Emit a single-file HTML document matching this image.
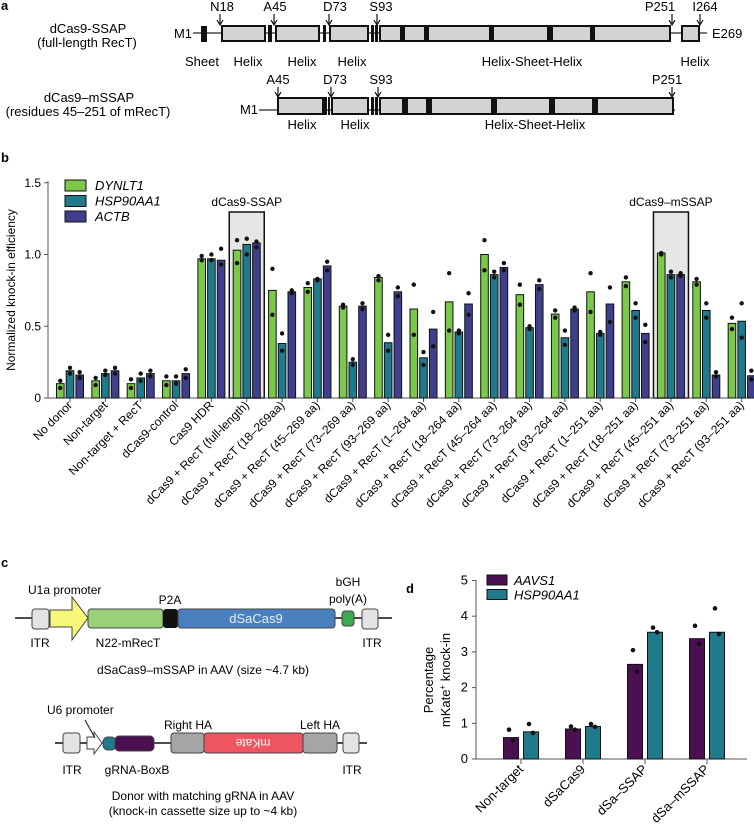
<!DOCTYPE html>
<html><head><meta charset="utf-8"><style>
body{margin:0;background:#fff}
svg{display:block;font-family:"Liberation Sans",Arial,sans-serif}
</style></head><body>
<svg id="fig" width="754" height="833" viewBox="0 0 754 833">
<!-- Panel a -->
<g font-size="13">
<text x="1" y="10" font-weight="bold" font-size="13">a</text>
<text x="88" y="33" text-anchor="middle">dCas9-SSAP</text>
<text x="87" y="47" text-anchor="middle">(full-length RecT)</text>
<text x="192" y="38" text-anchor="end">M1</text>
<line x1="193" y1="33" x2="707" y2="33" stroke="#777" stroke-width="2"/>
<rect x="201" y="26" width="6" height="16" fill="#111"/>
<g fill="#d3d3d3" stroke="#111" stroke-width="2">
<rect x="222" y="26" width="43" height="15"/><rect x="276" y="26" width="43" height="15"/><rect x="330" y="26" width="38" height="15"/><rect x="380" y="26" width="290" height="15"/><rect x="682" y="26" width="17" height="15"/>
</g>
<g fill="#111"><rect x="268" y="25" width="4" height="17"/><rect x="323" y="25" width="3" height="17"/><rect x="371" y="25" width="3" height="17"/><rect x="375" y="25" width="3" height="17"/>
<rect x="400" y="25" width="5" height="17"/><rect x="424" y="25" width="5" height="17"/><rect x="489" y="25" width="5" height="17"/><rect x="547" y="25" width="6" height="17"/><rect x="590" y="25" width="5" height="17"/></g>
<text x="712" y="38">E269</text>
<g text-anchor="middle">
<text x="222" y="11">N18</text><text x="275" y="11">A45</text><text x="335" y="11">D73</text><text x="381" y="11">S93</text><text x="660" y="11">P251</text><text x="705" y="11">I264</text>
<text x="202" y="66">Sheet</text><text x="248" y="66">Helix</text><text x="302" y="66">Helix</text><text x="352" y="66">Helix</text><text x="532" y="66">Helix-Sheet-Helix</text><text x="695" y="66">Helix</text></g>
<path d="M220 14V24M217 20L220 25L223 20M274 14V24M271 20L274 25L277 20M329 14V24M326 20L329 25L332 20M377 14V24M374 20L377 25L380 20M672 14V24M669 20L672 25L675 20M700 14V24M697 20L700 25L703 20" stroke="#111" fill="none" stroke-width="1.2"/>
<text x="89" y="102" text-anchor="middle">dCas9–mSSAP</text>
<text x="88" y="116" text-anchor="middle">(residues 45–251 of mRecT)</text>
<text x="258" y="114" text-anchor="end">M1</text>
<line x1="259" y1="110" x2="675" y2="110" stroke="#777" stroke-width="2"/>
<g fill="#d3d3d3" stroke="#111" stroke-width="2">
<rect x="278" y="98" width="45" height="16"/><rect x="332" y="98" width="36" height="16"/><rect x="380" y="98" width="293" height="16"/></g>
<g fill="#111"><rect x="324" y="97" width="3" height="18"/><rect x="328" y="97" width="2" height="18"/><rect x="371" y="97" width="3" height="18"/><rect x="375" y="97" width="3" height="18"/>
<rect x="402" y="97" width="6" height="18"/><rect x="426" y="97" width="6" height="18"/><rect x="491" y="97" width="6" height="18"/><rect x="549" y="97" width="6" height="18"/><rect x="592" y="97" width="6" height="18"/></g>
<g text-anchor="middle"><text x="278" y="84">A45</text><text x="335" y="84">D73</text><text x="381" y="84">S93</text><text x="667" y="84">P251</text>
<text x="302" y="129">Helix</text><text x="355" y="129">Helix</text><text x="535" y="129">Helix-Sheet-Helix</text></g>
<path d="M278 87V96M275 92L278 97L281 92M331 87V96M328 92L331 97L334 92M378 87V96M375 92L378 97L381 92M672 87V96M669 92L672 97L675 92" stroke="#111" fill="none" stroke-width="1.2"/>
</g>

<!-- Panel b -->
<g id="pb" font-size="12">
<text x="1" y="162" font-weight="bold" font-size="13">b</text>
<text transform="translate(15,290) rotate(-90)" text-anchor="middle">Normalized knock-in efficiency</text>
</g>

<!-- Panel c -->
<g font-size="12">
<text x="1" y="567" font-weight="bold" font-size="13">c</text>
<line x1="15" y1="618" x2="392" y2="618" stroke="#111" stroke-width="1.5"/>
<rect x="32" y="609" width="17" height="20" rx="3" fill="#e3e3e3" stroke="#444"/>
<path d="M50 610H72V597L88 618L72 640V627H50Z" fill="#f7f77a" stroke="#444"/>
<rect x="88" y="609" width="75" height="19" rx="3" fill="#9ad07a" stroke="#444"/>
<rect x="163" y="609" width="15" height="19" rx="3" fill="#111"/>
<rect x="178" y="609" width="157" height="19" rx="3" fill="#4a7fc0" stroke="#444"/>
<text x="256" y="623" text-anchor="middle" fill="#e8eef8" font-size="13">dSaCas9</text>
<rect x="342" y="611" width="12" height="15" rx="3" fill="#3daa52" stroke="#444"/>
<rect x="362" y="609" width="16" height="20" rx="3" fill="#e3e3e3" stroke="#444"/>
<text x="28" y="594">U1a promoter</text><text x="170" y="604" text-anchor="middle">P2A</text>
<text x="348" y="586" text-anchor="middle">bGH</text><text x="348" y="603" text-anchor="middle">poly(A)</text>
<text x="40" y="647" text-anchor="middle">ITR</text><text x="128" y="647" text-anchor="middle">N22-mRecT</text><text x="372" y="647" text-anchor="middle">ITR</text>
<text x="203" y="674" text-anchor="middle">dSaCas9–mSSAP in AAV (size ~4.7 kb)</text>
<line x1="55" y1="743" x2="367" y2="743" stroke="#111" stroke-width="1.5"/>
<rect x="63" y="733" width="17" height="20" rx="3" fill="#e3e3e3" stroke="#444"/>
<path d="M87 737H94V732L102 743L94 754V749H87Z" fill="#fff" stroke="#444"/>
<path d="M85 720L95 738" stroke="#111"/>
<rect x="103" y="737" width="13" height="13" rx="5" fill="#1f7a8c" stroke="#444"/>
<rect x="115" y="736" width="39" height="15" rx="4" fill="#4a1052" stroke="#444"/>
<rect x="171" y="733" width="33" height="20" rx="3" fill="#a5a5a5" stroke="#444"/>
<rect x="204" y="733" width="99" height="20" rx="3" fill="#ee5560" stroke="#444"/>
<text transform="translate(253,739) rotate(180)" text-anchor="middle" fill="#fff" font-size="12">mKate</text>
<rect x="303" y="733" width="34" height="20" rx="3" fill="#a5a5a5" stroke="#444"/>
<rect x="343" y="733" width="16" height="20" rx="3" fill="#e3e3e3" stroke="#444"/>
<text x="47" y="714">U6 promoter</text><text x="188" y="729" text-anchor="middle">Right HA</text><text x="320" y="729" text-anchor="middle">Left HA</text>
<text x="72" y="774" text-anchor="middle">ITR</text><text x="137" y="774" text-anchor="middle">gRNA-BoxB</text><text x="352" y="774" text-anchor="middle">ITR</text>
<text x="203" y="800" text-anchor="middle">Donor with matching gRNA in AAV</text>
<text x="203" y="815" text-anchor="middle">(knock-in cassette size up to ~4 kb)</text>
</g>

<!-- Panel d -->
<g id="pd" font-size="12">
<text x="406" y="593" font-weight="bold" font-size="13">d</text>
<text transform="translate(433,680) rotate(-90)" text-anchor="middle" font-size="13">Percentage</text>
<text transform="translate(450,680) rotate(-90)" text-anchor="middle" font-size="13">mKate<tspan dy="-5" font-size="8">+</tspan><tspan dy="5"> knock-in</tspan></text>
</g>
</svg>
<script>
// Panel b data
const bCats=["No donor","Non-target","Non-target + RecT","dCas9-control","Cas9 HDR","dCas9 + RecT (full-length)","dCas9 + RecT (18–269aa)","dCas9 + RecT (45–269 aa)","dCas9 + RecT (73–269 aa)","dCas9 + RecT (93–269 aa)","dCas9 + RecT (1–264 aa)","dCas9 + RecT (18–264 aa)","dCas9 + RecT (45–264 aa)","dCas9 + RecT (73–264 aa)","dCas9 + RecT (93–264 aa)","dCas9 + RecT (1–251 aa)","dCas9 + RecT (18–251 aa)","dCas9 + RecT (45–251 aa)","dCas9 + RecT (73–251 aa)","dCas9 + RecT (93–251 aa)"];
const bDYN=[0.10,0.12,0.10,0.12,0.97,1.03,0.75,0.77,0.64,0.84,0.62,0.67,1.00,0.72,0.585,0.74,0.81,1.01,0.81,0.52];
const bHSP=[0.19,0.17,0.14,0.12,0.97,1.07,0.38,0.83,0.25,0.385,0.28,0.46,0.86,0.49,0.42,0.45,0.61,0.86,0.61,0.535];
const bACT=[0.16,0.19,0.17,0.17,0.96,1.08,0.74,0.92,0.64,0.74,0.48,0.655,0.91,0.79,0.62,0.655,0.45,0.86,0.16,0.155];
const bDYNpts=[[0.07,0.12],[0.09,0.14],[0.07,0.13],[0.09,0.15],[0.96,0.99],[0.94,1.1],[0.58,0.9],[0.74,0.8],[0.63,0.65],[0.82,0.85],[0.44,0.79],[0.47,0.87],[0.89,1.1],[0.65,0.79],[0.56,0.61],[0.6,0.87],[0.78,0.84],[1.0,1.01],[0.79,0.83],[0.48,0.56]];
const bHSPpts=[[0.17,0.21],[0.16,0.19],[0.12,0.17],[0.1,0.15],[0.96,1.0],[1.0,1.11],[0.33,0.45],[0.82,0.83],[0.23,0.27],[0.33,0.44],[0.23,0.32],[0.45,0.47],[0.84,0.88],[0.48,0.5],[0.37,0.47],[0.44,0.46],[0.56,0.66],[0.84,0.88],[0.56,0.66],[0.42,0.66]];
const bACTpts=[[0.14,0.18],[0.17,0.21],[0.15,0.19],[0.14,0.2],[0.93,1.04],[1.05,1.09],[0.73,0.75],[0.89,0.95],[0.62,0.66],[0.71,0.77],[0.36,0.6],[0.58,0.73],[0.89,0.94],[0.76,0.82],[0.61,0.63],[0.53,0.77],[0.39,0.51],[0.85,0.87],[0.15,0.18],[0.13,0.19]];
const bTicks=[0,0.5,1.0,1.5];
const bSeries=["DYNLT1","HSP90AA1","ACTB"];
const bColors=["#7cc84a","#1f7a8c","#3f3f8e"];
const bHighlight=[5,17];
const bHighlightLabels=["dCas9-SSAP","dCas9–mSSAP"];
// Panel d data
const dCats=["Non-target","dSaCas9","dSa–SSAP","dSa–mSSAP"];
const dAAV=[0.6,0.84,2.65,3.37];
const dHSP=[0.76,0.91,3.55,3.55];
const dAAVpts=[[0.52,0.82],[0.82,0.91],[2.45,3.05],[3.23,3.73]];
const dHSPpts=[[0.73,0.98],[0.9,0.98],[3.55,3.68],[3.5,4.22]];
const dTicks=[0,1,2,3,4,5];
const dSeries=["AAVS1","HSP90AA1"];
const dColors=["#4a1052","#1f7a8c"];

const NS="http://www.w3.org/2000/svg";
function mk(parent,tag,attrs){const e=document.createElementNS(NS,tag);for(const k in attrs)e.setAttribute(k,attrs[k]);parent.appendChild(e);return e;}

const pb=document.getElementById('pb');
const by=v=>398-v*143.5;
const bx=i=>70+i*35.35;
bHighlight.forEach((gi,k)=>{
  const r=mk(pb,'rect',{x:bx(gi)-17.5,y:212,width:35,height:398-212,fill:'#e6e6e6',stroke:'#111','stroke-width':1.5});
  
  
  const t=mk(pb,'text',{x:bx(gi),y:206,'text-anchor':'middle'});t.textContent=bHighlightLabels[k];
  
  
});
mk(pb,'line',{x1:48,y1:181,x2:48,y2:398,stroke:'#555'});
mk(pb,'line',{x1:48,y1:398,x2:752,y2:398,stroke:'#555'});
bTicks.forEach(v=>{
  mk(pb,'line',{x1:44,y1:by(v),x2:48,y2:by(v),stroke:'#555'});
  const t=mk(pb,'text',{x:41,y:by(v)+4,'text-anchor':'end'});t.textContent=v===0?'0':v.toFixed(1);
  
  
});
const bVals=[bDYN,bHSP,bACT],bPts=[bDYNpts,bHSPpts,bACTpts];
bCats.forEach((c,i)=>{
  mk(pb,'line',{x1:bx(i),y1:398,x2:bx(i),y2:402,stroke:'#555'});
  for(let s=0;s<3;s++){
    const cx=bx(i)+(s-1)*9.7;
    const r=mk(pb,'rect',{x:cx-3.8,y:by(bVals[s][i]),width:7.6,height:by(0)-by(bVals[s][i]),fill:bColors[s],stroke:'#111','stroke-width':1});
    
    
    bPts[s][i].forEach(p=>{const d=mk(pb,'circle',{cx:cx,cy:by(p),r:2.2,fill:'#111'});
      
      });
  }
  const t=mk(pb,'text',{x:bx(i)+3,y:406,'text-anchor':'end',transform:`rotate(-45 ${bx(i)+3} 406)`});
  t.textContent=c;
  
  
});
bSeries.forEach((s,k)=>{
  const r=mk(pb,'rect',{x:65,y:180+k*15.5,width:21,height:11,fill:bColors[k],stroke:'#111'});
  
  
  const t=mk(pb,'text',{x:95,y:190+k*15.5,'font-style':'italic','font-size':13});t.textContent=s;
  
  
});

const pd=document.getElementById('pd');
const dy=v=>759-v*35.7;
const dcx=i=>521+i*62;
mk(pd,'line',{x1:476,y1:580,x2:476,y2:759,stroke:'#555'});
mk(pd,'line',{x1:476,y1:759,x2:747,y2:759,stroke:'#555'});
dTicks.forEach(v=>{
  mk(pd,'line',{x1:472,y1:dy(v),x2:476,y2:dy(v),stroke:'#555'});
  const t=mk(pd,'text',{x:468,y:dy(v)+4,'text-anchor':'end','font-size':13});t.textContent=v;
  
  
});
const dVals=[dAAV,dHSP],dPts=[dAAVpts,dHSPpts];
dCats.forEach((c,i)=>{
  const cx0=dcx(i);
  mk(pd,'line',{x1:cx0,y1:759,x2:cx0,y2:764,stroke:'#555'});
  for(let s=0;s<2;s++){
    const cx=cx0+(s===0?-10:10);
    const r=mk(pd,'rect',{x:cx-7.5,y:dy(dVals[s][i]),width:15,height:dy(0)-dy(dVals[s][i]),fill:dColors[s],stroke:'#111'});
    
    
    dPts[s][i].forEach((p,j)=>{const d=mk(pd,'circle',{cx:cx+(j?-2:2),cy:dy(p),r:2.3,fill:'#111'});
      
      });
  }
  const t=mk(pd,'text',{x:cx0+3,y:770,'text-anchor':'end','font-size':13,transform:`rotate(-45 ${cx0+3} 770)`});
  t.textContent=c;
  
  
});
dSeries.forEach((s,k)=>{
  const r=mk(pd,'rect',{x:487,y:575+k*14.5,width:20,height:10,fill:dColors[k],stroke:'#111'});
  
  
  const t=mk(pd,'text',{x:514,y:585+k*14.5,'font-style':'italic','font-size':13});t.textContent=s;
  
  
});
</script>
</body></html>
